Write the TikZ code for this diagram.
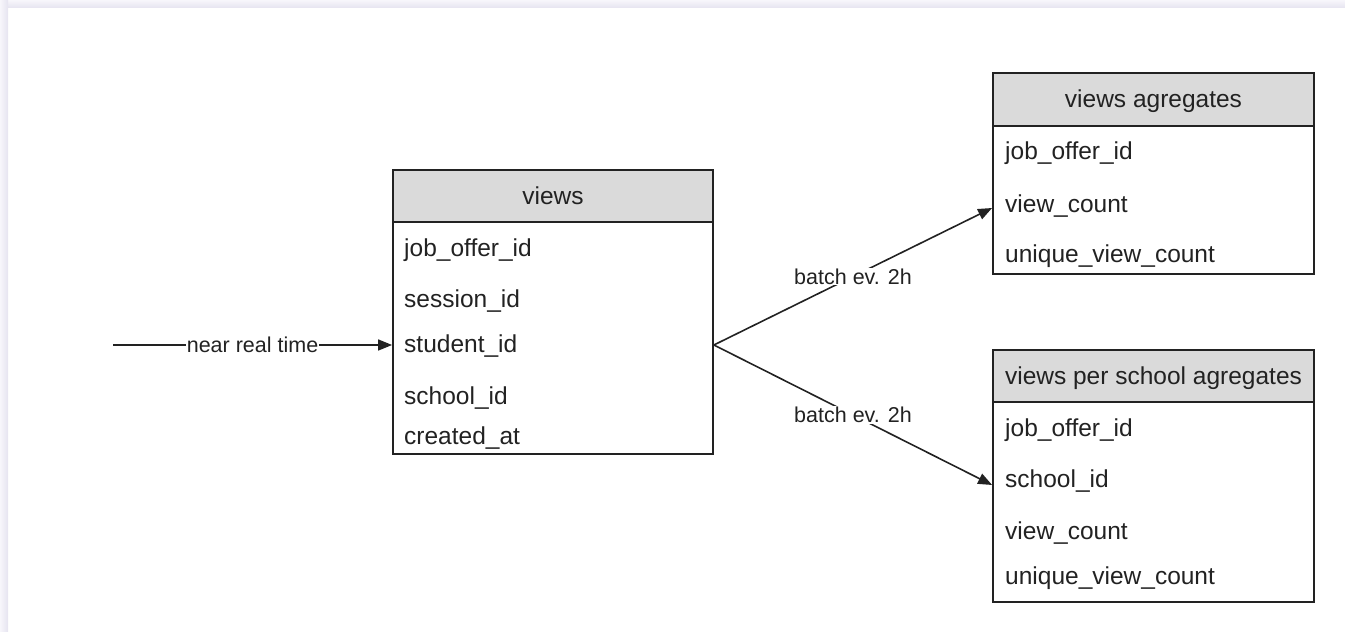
\documentclass[tikz,border=0pt]{standalone}
\usepackage{fontspec}
\setmainfont{Liberation Sans}
\usetikzlibrary{arrows.meta}
\definecolor{ink}{HTML}{222222}
\definecolor{hdr}{HTML}{DADADA}
\definecolor{edgeA}{HTML}{F7F6FB}
\definecolor{edgeB}{HTML}{E6E4F0}
\tikzset{
  tblhead/.style={draw=ink, fill=hdr, line width=1.8pt, inner sep=0pt, minimum width=#1},
  tblbody/.style={draw=ink, fill=white, line width=1.8pt, inner sep=0pt, minimum width=#1},
  fld/.style={anchor=base west, inner sep=0pt, text=ink, font=\fontsize{24.5}{28}\selectfont},
  ttl/.style={anchor=base, inner sep=0pt, text=ink, font=\fontsize{24.5}{28}\selectfont},
  flow/.style={draw=ink, line width=1.6pt, -{Triangle[length=14pt,width=11pt]}},
  lbl/.style={fill=white, inner sep=1pt, text=ink, font=\fontsize{21.5}{24}\selectfont}
}
\begin{document}
\begin{tikzpicture}[x=1pt,y=1pt]
\useasboundingbox (0,0) rectangle (1345,632);
% soft frame edge along the top and left
\shade[top color=edgeA, bottom color=edgeB] (8,624) rectangle (1345,632);
\shade[left color=edgeA, right color=edgeB] (0,0) rectangle (8,632);

% table: views
\node[tblhead=320pt, minimum height=52pt] (vh) at (553,436) {};
\node[tblbody=320pt, minimum height=232pt] (vb) at (553,294) {};
\node[ttl] (vt) at (553,427) {views};
\node[fld] (v1) at (404,375) {job\_offer\_id};
\node[fld] (v2) at (404,324) {session\_id};
\node[fld] (v3) at (404,279) {student\_id};
\node[fld] (v4) at (404,227) {school\_id};
\node[fld] (v5) at (404,187) {created\_at};

% table: views agregates
\node[tblhead=321pt, minimum height=53pt] (ah) at (1153.5,532.5) {};
\node[tblbody=321pt, minimum height=148pt] (ab) at (1153.5,432) {};
\node[ttl] (at) at (1153.5,524) {views agregates};
\node[fld] (a1) at (1005,472) {job\_offer\_id};
\node[fld] (a2) at (1005,419) {view\_count};
\node[fld] (a3) at (1005,369) {unique\_view\_count};

% table: views per school agregates
\node[tblhead=321pt, minimum height=52pt] (sh) at (1153.5,256) {};
\node[tblbody=321pt, minimum height=200pt] (sb) at (1153.5,130) {};
\node[ttl] (st) at (1153.5,247) {views per school agregates};
\node[fld] (s1) at (1005,195) {job\_offer\_id};
\node[fld] (s2) at (1005,144) {school\_id};
\node[fld] (s3) at (1005,92) {view\_count};
\node[fld] (s4) at (1005,47) {unique\_view\_count};

% connectors
\coordinate (src) at (113,287);
\coordinate (fork) at (vb.east |- src);
\coordinate (inA) at ([yshift=-8pt]ab.west);
\coordinate (inS) at ([yshift=17pt]sb.west);
\draw[flow] (src) -- node[lbl] {near real time} (src -| vb.west);
\draw[flow] (fork) -- node[lbl] {batch ev. 2h} (inA);
\draw[flow] (fork) -- node[lbl] {batch ev. 2h} (inS);
\end{tikzpicture}
\end{document}
